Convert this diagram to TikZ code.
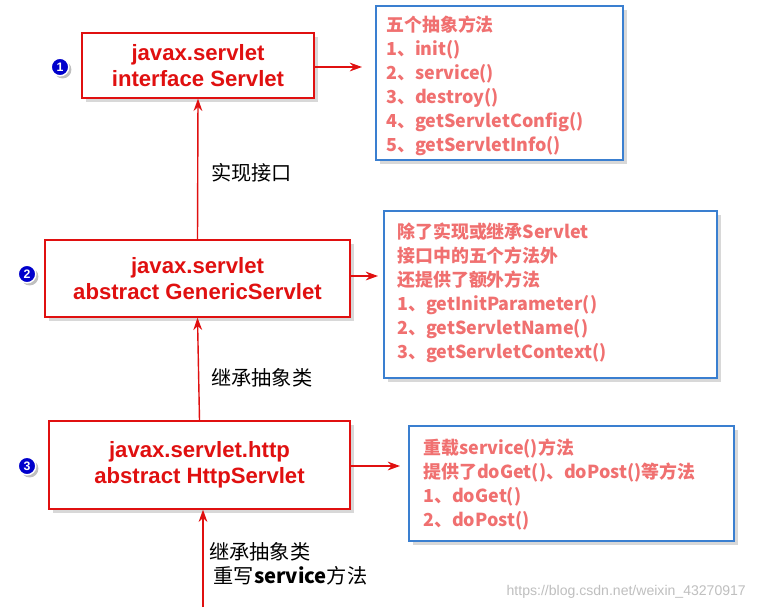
\documentclass[tikz,border=0pt]{standalone}
\usepackage{fontspec}
\setmainfont{Liberation Sans}
\newfontfamily\cjk{Noto Sans CJK SC}
\usetikzlibrary{shadows,arrows.meta}
\definecolor{boxred}{HTML}{E01010}
\definecolor{notered}{HTML}{F07070}
\definecolor{noteblue}{HTML}{3A7FD0}
\tikzset{
 x=0.02cm,y=-0.02cm,
 mainbox/.style={draw=boxred,thick,fill=white,drop shadow={opacity=0.3,shadow xshift=2pt,shadow yshift=-2pt},font=\fontsize{12.6}{15}\selectfont\bfseries,text=boxred,align=center,inner sep=0pt},
 notebox/.style={draw=noteblue,thick,fill=white,drop shadow={opacity=0.3,shadow xshift=2pt,shadow yshift=-2pt},inner sep=0pt},
 notetext/.style={anchor=north west,align=left,text=notered,font=\cjk\fontsize{10.2}{13.6}\selectfont\bfseries,inner sep=0pt},
 num/.style={circle,fill=blue!80!black,draw=white,thick,text=white,font=\fontsize{7}{7}\selectfont\bfseries,minimum size=10pt,inner sep=0pt,drop shadow={opacity=0.5,shadow xshift=1.5pt,shadow yshift=-1.5pt}},
 redarrow/.style={draw=boxred,thick,-{Stealth[length=7pt,width=5pt]}},
 lbl/.style={font=\cjk\fontsize{11.5}{14}\selectfont,text=black,align=left}
}
\begin{document}
\begin{tikzpicture}
\useasboundingbox (0,0) rectangle (760,610);
\fill[white] (0,0) rectangle (760,610);
% main boxes
\node[mainbox,minimum width=232*0.02cm,minimum height=65*0.02cm] (b1) at (198,65.5) {javax.servlet\\interface Servlet};
\node[mainbox,minimum width=305*0.02cm,minimum height=77*0.02cm] (b2) at (197.5,278.5) {javax.servlet\\abstract GenericServlet};
\node[mainbox,minimum width=301*0.02cm,minimum height=88*0.02cm] (b3) at (199.5,465) {javax.servlet.http\\abstract HttpServlet};
% numbers
\node[num] (n1) at (60,67) {1};
\node[num] (n2) at (27,274) {2};
\node[num] (n3) at (27,466) {3};
% notes
\node[notebox,minimum width=247*0.02cm,minimum height=154*0.02cm] (m1) at (499.5,83) {};
\node[notetext] (t1) at (386,16) {五个抽象方法\\1、init()\\2、service()\\3、destroy()\\4、getServletConfig()\\5、getServletInfo()};
\node[notebox,minimum width=333*0.02cm,minimum height=167*0.02cm] (m2) at (550.5,294.5) {};
\node[notetext] (t2) at (397,223) {除了实现或继承Servlet\\接口中的五个方法外\\还提供了额外方法\\1、getInitParameter()\\2、getServletName()\\3、getServletContext()};
\node[notebox,minimum width=325*0.02cm,minimum height=115*0.02cm] (m3) at (571.5,483.5) {};
\node[notetext] (t3) at (423,439) {重载service()方法\\提供了doGet()、doPost()等方法\\1、doGet()\\2、doPost()};
% arrows
\draw[redarrow] (b2.north) -- (b1.south);
\draw[redarrow] (b3.north) -- (b2.south);
\coordinate (bot) at (203,607);
\draw[redarrow] (bot) -- (b3.south -| bot);
\coordinate (e1) at (362,67);
\coordinate (e2) at (378,276);
\coordinate (e3) at (400,466);
\draw[redarrow] (b1.east |- e1) -- (e1);
\draw[redarrow] (b2.east |- e2) -- (e2);
\draw[redarrow] (b3.east |- e3) -- (e3);
% labels
\node[lbl,anchor=west] (l1) at (205,173) {实现接口};
\node[lbl,anchor=west] (l2) at (205,378) {继承抽象类};
\node[lbl,anchor=north west] (l3) at (203,536) {继承抽象类\\\ 重写\textbf{service}方法};
\node[anchor=east,text=black!25,font=\fontsize{8}{8}\selectfont] (wm) at (752,592) {https://blog.csdn.net/weixin\_43270917};
\end{tikzpicture}
\end{document}
